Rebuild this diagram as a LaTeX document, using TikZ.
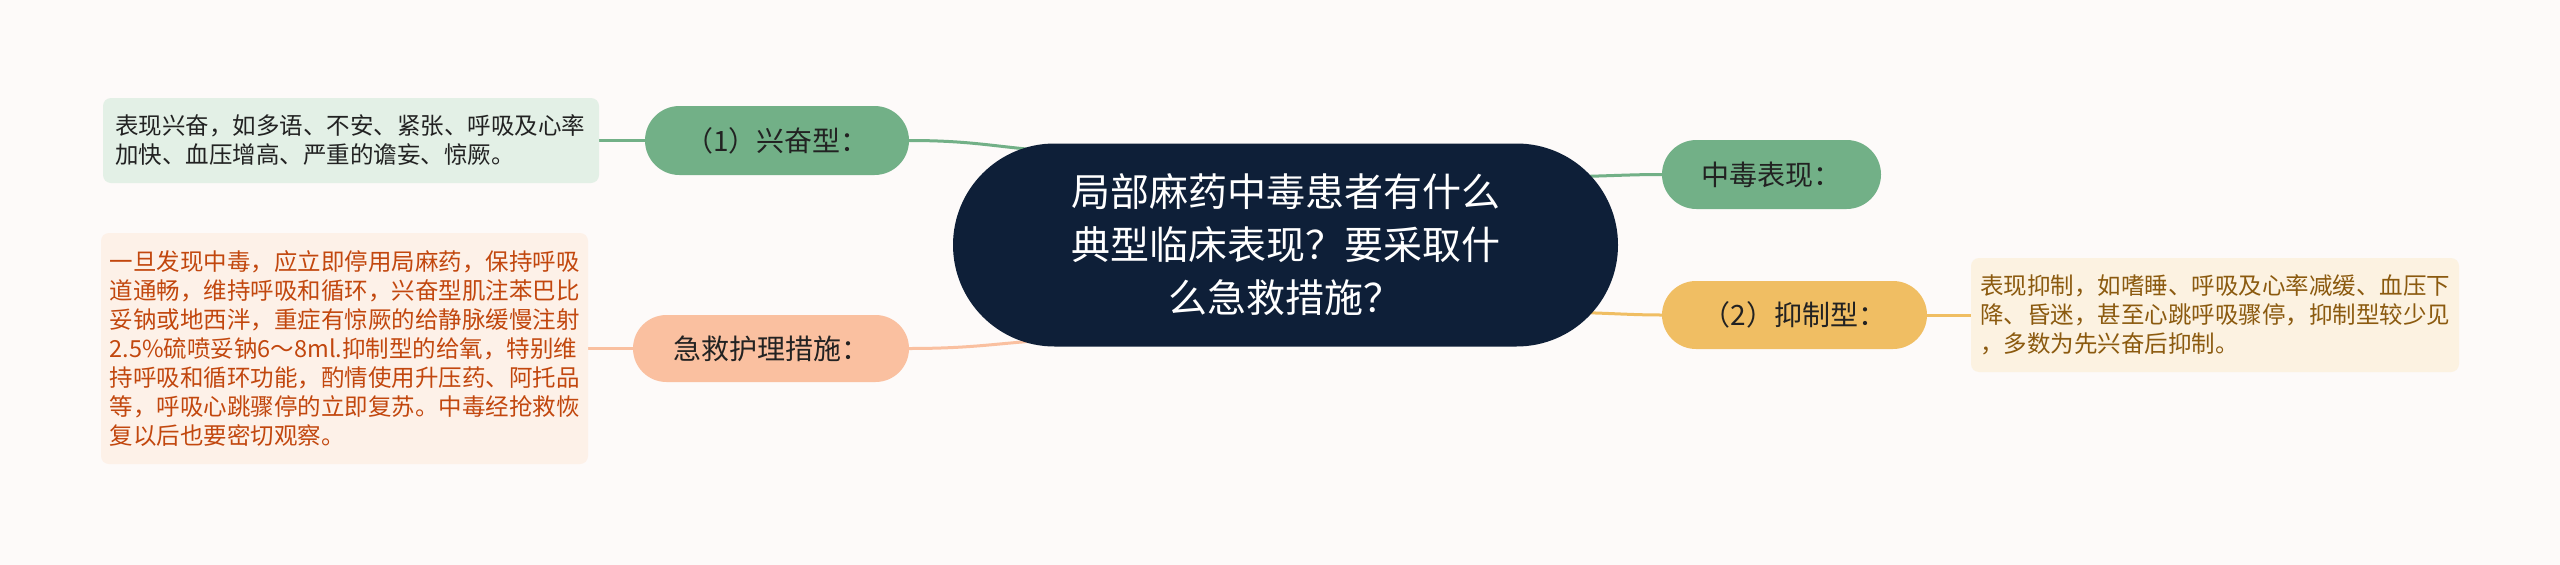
\documentclass[tikz,border=0pt]{standalone}
\usepackage{fontspec}
\setmainfont{Noto Sans CJK SC}
\usetikzlibrary{shapes.misc,backgrounds}
\definecolor{bgc}{HTML}{FDFAF9}
\definecolor{rootc}{HTML}{0E1F38}
\definecolor{greenc}{HTML}{72B087}
\definecolor{greenl}{HTML}{E3F0E6}
\definecolor{peachc}{HTML}{FAC0A0}
\definecolor{peachl}{HTML}{FDF1E8}
\definecolor{peacht}{HTML}{C2470E}
\definecolor{goldc}{HTML}{F0BE63}
\definecolor{goldl}{HTML}{FCF2E1}
\definecolor{goldt}{HTML}{8B5A0F}
\definecolor{darkt}{HTML}{222222}
\tikzset{
  rootnode/.style={rounded rectangle, fill=rootc, text=white, align=center,
    minimum width=665pt, minimum height=203pt, inner sep=0pt,
    font=\fontsize{39}{53}\selectfont},
  topic/.style={rounded rectangle, text=darkt, minimum height=69pt, inner sep=0pt,
    font=\fontsize{28}{34}\selectfont},
  leaf/.style={rectangle, rounded corners=8pt, align=left, inner xsep=12pt, inner ysep=0pt,
    font=\fontsize{23.5}{29}\selectfont},
  conn/.style={line width=3pt}
}
\begin{document}
\begin{tikzpicture}[x=1pt,y=-1pt]
\useasboundingbox (0,0) rectangle (2560,565);
% root
\node[rootnode] (root) at (1285.5,245) {局部麻药中毒患者有什么\\典型临床表现？要采取什\\么急救措施？};
% topics
\node[topic, fill=greenc, minimum width=264pt] (xing) at (777,140.5) {（1）兴奋型：};
\node[topic, fill=peachc, minimum width=276pt, minimum height=67pt] (jj) at (771,348.5) {急救护理措施：};
\node[topic, fill=greenc, minimum width=219pt] (zd) at (1771.5,174.5) {中毒表现：};
\node[topic, fill=goldc, minimum width=265pt, minimum height=68pt] (yz) at (1794.5,315) {（2）抑制型：};
% leaves
\node[leaf, fill=greenl, text=darkt, minimum width=496pt, minimum height=85pt, text width=472pt] (l1) at (351,140.5)
  {表现兴奋，如多语、不安、紧张、呼吸及心率\\加快、血压增高、严重的谵妄、惊厥。};
\node[leaf, fill=peachl, text=peacht, minimum width=487pt, minimum height=231pt, text width=470pt, inner xsep=8pt] (l2) at (344.5,348.5)
  {一旦发现中毒，应立即停用局麻药，保持呼吸\\道通畅，维持呼吸和循环，兴奋型肌注苯巴比\\妥钠或地西泮，重症有惊厥的给静脉缓慢注射\\2.5\%硫喷妥钠6～8ml.抑制型的给氧，特别维\\持呼吸和循环功能，酌情使用升压药、阿托品\\等，呼吸心跳骤停的立即复苏。中毒经抢救恢\\复以后也要密切观察。};
\node[leaf, fill=goldl, text=goldt, minimum width=488pt, minimum height=114pt, text width=470pt, inner xsep=9pt] (l3) at (2215,315)
  {表现抑制，如嗜睡、呼吸及心率减缓、血压下\\降、昏迷，甚至心跳呼吸骤停，抑制型较少见\\，多数为先兴奋后抑制。};
% attachment points inside root
\coordinate (ra) at (1075,152);
\coordinate (rb) at (1075,339);
\coordinate (rc) at (1560,177);
\coordinate (rd) at (1560,312);
\begin{pgfonlayer}{background}
  \fill[bgc] (0,0) rectangle (2560,565);
  \draw[conn, greenc] (xing.east) .. controls (985,140.5) and (1005,150) .. (ra);
  \draw[conn, peachc] (jj.east) .. controls (985,348.5) and (1005,341) .. (rb);
  \draw[conn, greenc] (rc) .. controls (1610,176) and (1630,174.5) .. (zd.west);
  \draw[conn, goldc] (rd) .. controls (1610,313) and (1630,315) .. (yz.west);
  \draw[conn, greenc] (xing.west) -- (l1.east);
  \draw[conn, peachc] (jj.west) -- (l2.east);
  \draw[conn, goldc] (yz.east) -- (l3.west);
\end{pgfonlayer}
\end{tikzpicture}
\end{document}
